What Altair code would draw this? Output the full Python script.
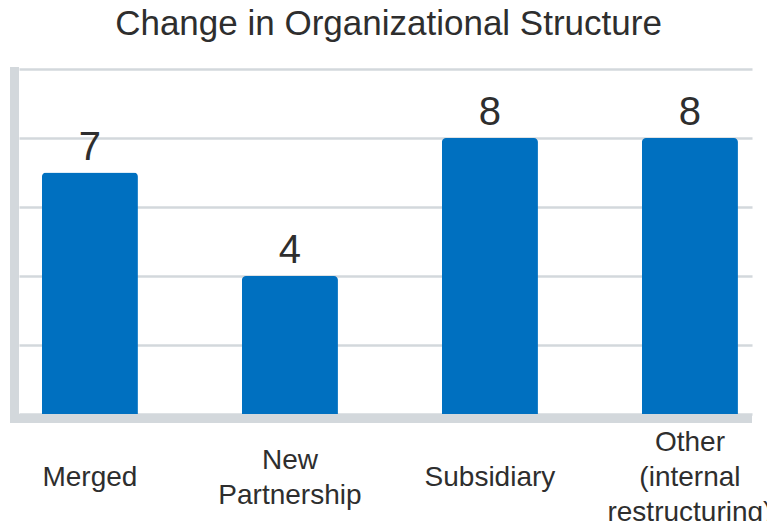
import altair as alt
import pandas as pd

categories = ["Merged", "New|Partnership", "Subsidiary", "Other|(internal|restructuring)"]
values = [7, 4, 8, 8]
grid_values = [0, 2, 4, 6, 8, 10]

FONT = "Liberation Sans"
TEXT = "#2e2e2e"
BLUE = "#0070C0"
GRAY = "#d3d8dc"

df = pd.DataFrame({"category": categories, "value": values})
one = pd.DataFrame({"k": [0]})

W, H = 733, 345
LH = 35

x = alt.X("category:N", sort=categories,
          scale=alt.Scale(paddingInner=0.52, paddingOuter=0.0925, align=0.62),
          axis=None)
y = alt.Y("value:Q", scale=alt.Scale(domain=[0, 10], nice=False),
          axis=alt.Axis(title=None, values=grid_values, labels=False, ticks=False,
                        domain=False, grid=True, gridColor=GRAY, gridWidth=2.5))

bars = alt.Chart(df).mark_bar(color=BLUE, cornerRadiusTopLeft=4,
                              cornerRadiusTopRight=4).encode(x=x, y=y)
labels = alt.Chart(df).mark_text(font=FONT, fontSize=40, color=TEXT,
                                 baseline="alphabetic", dy=-13).encode(
    x=alt.X("category:N", sort=categories), y="value:Q", text="value:Q")

cat_layers = []
for n in (1, 2, 3):
    cat_layers.append(
        alt.Chart(df).transform_calculate(
            n="length(split(datum.category, '|'))"
        ).transform_filter(f"datum.n == {n}").mark_text(
            font=FONT, fontSize=28, color=TEXT, baseline="top", align="center",
            lineBreak="|", lineHeight=LH, dy=-(n - 1) * LH / 2
        ).encode(x=alt.X("category:N", sort=categories), y=alt.value(H + 50),
                 text="category:N")
    )

left_line = alt.Chart(one).mark_rule(color=GRAY, strokeWidth=9).encode(
    x=alt.value(-4.5), y=alt.value(-2), y2=alt.value(354))
bottom_line = alt.Chart(one).mark_rule(color=GRAY, strokeWidth=9).encode(
    x=alt.value(-9), x2=alt.value(W), y=alt.value(349.5))

chart = alt.layer(bars, labels, *cat_layers, left_line, bottom_line).properties(
    width=W, height=H,
    title=alt.TitleParams("Change in Organizational Structure", font=FONT,
                          fontSize=35, fontWeight="normal", color=TEXT,
                          anchor="middle", offset=21, dx=3),
    autosize=alt.AutoSizeParams(type="none"),
    padding={"left": 11, "top": 61, "right": 15, "bottom": 107},
).configure_view(stroke=None)

chart.save("out.html", embed_options={"renderer": "svg", "actions": False})
